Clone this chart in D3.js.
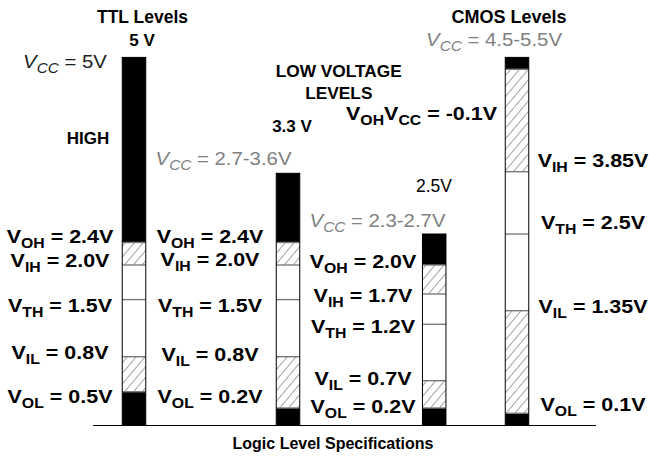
<!DOCTYPE html>
<html><head><meta charset="utf-8">
<script src="https://cdn.jsdelivr.net/npm/d3@7"></script>
<style>
html,body{margin:0;padding:0;background:#fff;}
svg{display:block;font-family:"Liberation Sans",Arial,Helvetica,sans-serif;}
</style></head>
<body>
<svg id="chart" width="650" height="459"></svg>
<script>
// ---------- DATA ----------
const categories = ["TTL", "LV33", "LV25", "CMOS"];
const zoneTypes = ["out", "in", "undef", "undef", "in", "out"];   // bottom -> top
const ttlBounds  = [0, 0.5, 0.8, 1.5, 2.0, 2.4, 5.0];
const lv33Bounds = [0, 0.2, 0.8, 1.5, 2.0, 2.4, 3.3];
const lv25Bounds = [0, 0.2, 0.7, 1.2, 1.7, 2.0, 2.5];
const cmosBounds = [0, 0.1, 1.35, 2.5, 3.85, 4.9, 5.0];
const paramNames = ["OH", "IH", "TH", "IL", "OL"];
const ttlValues  = [2.4, 2.0, 1.5, 0.8, 0.5];
const lv33Values = [2.4, 2.0, 1.5, 0.8, 0.2];
const lv25Values = [2.0, 1.7, 1.2, 0.7, 0.2];
const cmosValues = [4.9, 3.85, 2.5, 1.35, 0.1];
const cmosValueText = ["-0.1V", "3.85V", "2.5V", "1.35V", "0.1V"];
const vccTexts = ["5V", "2.7-3.6V", "2.3-2.7V", "4.5-5.5V"];

// ---------- LAYOUT ----------
const svg = d3.select("#chart");

// schematic (non-proportional) voltage axis as a polylinear scale
const y = d3.scaleLinear()
  .domain([0, 0.1, 0.2, 0.5, 0.7, 0.8, 1.2, 1.35, 1.5, 1.7, 2.0, 2.4, 2.5, 3.3, 3.85, 4.9, 5.0])
  .range([425, 413.3, 408, 391.7, 380.7, 356.7, 324.3, 310.7, 299.6, 294, 265, 242.5, 234, 173.3, 171.7, 69.3, 57.4]);
const x = d3.scaleOrdinal().domain(categories).range([134, 288, 434.2, 517]);
const barW = 23.5;

const defs = svg.append("defs");
const pat = defs.append("pattern").attr("id", "hatch")
  .attr("patternUnits", "userSpaceOnUse").attr("width", 6.8).attr("height", 6.8)
  .attr("patternTransform", "rotate(40)");
pat.append("rect").attr("width", 6.8).attr("height", 6.8).attr("fill", "#fff");
pat.append("line").attr("x1", 0).attr("y1", 0).attr("x2", 0).attr("y2", 6.8)
  .attr("stroke", "#333").attr("stroke-width", 0.9);

const fills = {out: "#000", in: "url(#hatch)", undef: "#fff"};
const boundsByCat = {TTL: ttlBounds, LV33: lv33Bounds, LV25: lv25Bounds, CMOS: cmosBounds};

// baseline
svg.append("line").attr("x1", 93).attr("x2", 596).attr("y1", y(0) + 0.5).attr("y2", y(0) + 0.5)
  .attr("stroke", "#000").attr("stroke-width", 1.2);

categories.forEach(cat => {
  const b = boundsByCat[cat];
  const segs = zoneTypes.map((t, i) => ({t, lo: b[i], hi: b[i + 1]}));
  const g = svg.append("g");
  g.selectAll("rect.seg").data(segs).join("rect").attr("class", "seg")
    .attr("x", x(cat) - barW / 2).attr("width", barW)
    .attr("y", d => y(d.hi)).attr("height", d => y(d.lo) - y(d.hi))
    .attr("fill", d => fills[d.t]);
  g.selectAll("line.bd").data(b.slice(1, -1)).join("line").attr("class", "bd")
    .attr("x1", x(cat) - barW / 2).attr("x2", x(cat) + barW / 2)
    .attr("y1", d => y(d)).attr("y2", d => y(d))
    .attr("stroke", "#7a7a7a").attr("stroke-width", 1.4);
  g.append("rect").attr("x", x(cat) - barW / 2).attr("width", barW)
    .attr("y", y(b[b.length - 1])).attr("height", y(0) - y(b[b.length - 1]))
    .attr("fill", "none").attr("stroke", "#000").attr("stroke-width", 1);
});

// ---------- TEXT ----------
function titleText(str, cx, by, size, weight) {
  svg.append("text").attr("x", cx).attr("y", by).attr("text-anchor", "middle")
    .attr("font-size", size).attr("font-weight", weight).attr("fill", "#000").text(str);
}
titleText("TTL Levels", 142.5, 22.7, 17.5, "bold");
titleText("5 V", 142, 45.5, 17, "bold");
titleText("LOW VOLTAGE", 338.7, 77.3, 17.3, "bold");
titleText("LEVELS", 338.8, 99.3, 17.3, "bold");
titleText("3.3 V", 292, 131.7, 17, "bold");
titleText("2.5V", 434, 191.5, 17.5, "normal");
titleText("CMOS Levels", 509, 23.3, 18, "bold");
titleText("HIGH", 88, 144, 17, "bold");
titleText("Logic Level Specifications", 333, 449, 16, "bold");

function richLabel(parts, cx, by, opts) {
  const g = svg.append("g").attr("transform", `translate(${cx},${by}) scale(${opts.sx},1)`);
  const t = g.append("text").attr("text-anchor", "middle").attr("font-size", opts.size)
    .attr("font-weight", opts.weight).attr("fill", opts.color);
  let lvl = 0;
  parts.forEach(([s, sub, ital]) => {
    const want = sub ? opts.subDy : 0;
    const ts = t.append("tspan").attr("dy", want - lvl).text(s);
    if (sub) ts.attr("font-size", opts.subSize);
    if (ital) ts.attr("font-style", "italic");
    lvl = want;
  });
}

const paramStyle = {size: 19, subSize: 14, subDy: 5, weight: "bold", color: "#000", sx: 1.13};
const colLayout = {
  TTL:  {cx: 60,  nudge: [-6, -4.2, 5.6, -4.2, 4.8]},
  LV33: {cx: 210, nudge: [-6, -5.5, 5.9, -2.2, -11.5]},
  LV25: {cx: 363, nudge: [-3.5, 1.5, 2.2, -2.2, -1.5]},
  CMOS: {cx: 593, nudge: [44, -11, -12, -4, -9]}
};
const fmtV = v => (Math.abs(v * 10 - Math.round(v * 10)) < 1e-9 ? v.toFixed(1) : String(v)) + "V";
const valuesByCat = {TTL: ttlValues, LV33: lv33Values, LV25: lv25Values, CMOS: cmosValues};

categories.forEach(cat => {
  const vals = valuesByCat[cat];
  const L = colLayout[cat];
  vals.forEach((v, i) => {
    const by = y(v) + 6.5 + L.nudge[i];
    if (cat === "CMOS" && i === 0) {
      richLabel([["V", false], [paramNames[i], true], ["V", false], ["CC", true], [" = " + cmosValueText[i], false]],
        421.5, by, paramStyle);
    } else {
      const txt = cat === "CMOS" ? cmosValueText[i] : fmtV(v);
      richLabel([["V", false], [paramNames[i], true], [" = " + txt, false]], L.cx, by, paramStyle);
    }
  });
});

// Vcc labels
const vccLayout = [
  {cx: 65, by: 68.3, color: "#1e1e1e"},
  {cx: 223.5, by: 165, color: "#808080"},
  {cx: 377.5, by: 226.7, color: "#808080"},
  {cx: 494, by: 46, color: "#808080"}
];
const vccStyleBase = {size: 18.5, subSize: 14, subDy: 5, weight: "normal", sx: 1.1};
vccTexts.forEach((s, i) => {
  const L = vccLayout[i];
  richLabel([["V", false, true], ["CC", true, true], [" = " + s, false]], L.cx, L.by,
    Object.assign({}, vccStyleBase, {color: L.color}));
});
</script>
</body></html>
